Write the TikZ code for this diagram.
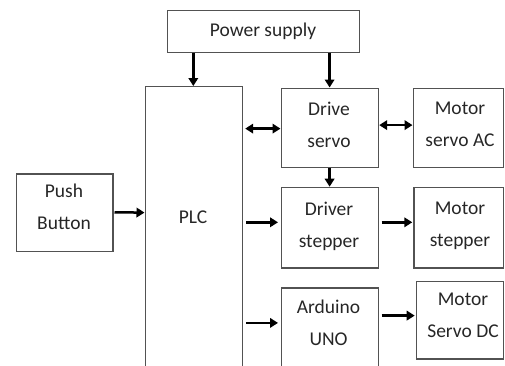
\documentclass[tikz,border=0pt]{standalone}
\usepackage{fontspec}
\setmainfont{Carlito}
\usetikzlibrary{arrows.meta,calc}

\begin{document}
\begin{tikzpicture}[x=1pt, y=-1pt,
  box/.style={draw=black!68, line width=1.2pt, inner sep=0pt, anchor=north west},
  txt/.style={align=center, inner sep=0pt, font=\fontsize{19.5}{32}\selectfont, text=black!85},
  arr/.style={line width=2.5pt, -{Triangle[length=8pt,width=9.5pt]}},
  darr/.style={line width=2.5pt, {Triangle[length=8pt,width=9.5pt]}-{Triangle[length=8pt,width=9.5pt]}}]

\useasboundingbox (0,0) rectangle (505,365);
\clip (0,0) rectangle (505,365);

% blocks
\node[box, minimum width=192pt, minimum height=41.5pt] (power) at (167,10) {};
\node[box, minimum width=97pt, minimum height=320pt] (plc) at (144.5,86) {};
\node[box, minimum width=96.3pt, minimum height=77.4pt] (push) at (16,173.3) {};
\node[box, minimum width=97pt, minimum height=79pt] (drive) at (280.5,87.5) {};
\node[box, minimum width=90.5pt, minimum height=79pt] (motorac) at (412.5,87.5) {};
\node[box, minimum width=97pt, minimum height=80.6pt] (stepper) at (280.5,186.7) {};
\node[box, minimum width=89.7pt, minimum height=80.6pt] (motorstep) at (413.3,186.7) {};
\node[box, minimum width=97pt, minimum height=120pt] (arduino) at (280.5,287.3) {};
\node[box, minimum width=87.3pt, minimum height=77.6pt] (motordc) at (415.7,280.7) {};

% labels
\node[txt] (power-t) at (263,31.5) {Power supply};
\node[txt] (plc-t) at (193,217.5) {PLC};
\node[txt] (push-t) at (64,206.7) {Push\\Button};
\node[txt] (drive-t) at (329,124.5) {Drive\\servo};
\node[txt] (motorac-t) at (460,124.5) {Motor\\servo AC};
\node[txt] (stepper-t) at (329,226) {Driver\\stepper};
\node[txt] (motorstep-t) at (460,226) {Motor\\stepper};
\node[txt] (arduino-t) at (328.5,323.2) {Arduino\\UNO};
\node[txt] (motordc-t) at (463,315) {Motor\\Servo DC};

% power feeds
\draw[arr] ($(power.south west)+(26.3,0)$) -- ($(plc.north west)+(48.8,0)$);
\draw[arr] (power.south -| drive.north) -- (drive.north);

% servo chain
\draw[darr] ($(plc.east |- drive.west)+(2.5,1)$) -- ($(drive.west)+(0,1)$);
\draw[darr] ($(drive.east)+(0.5,-2.5)$) -- ($(motorac.west |- drive.east)+(0,-2.5)$);
\draw[arr] (drive.south) -- (stepper.north);

% inputs and outputs
\draw[arr] ($(push.east)+(1,-0.3)$) -- (push.east -| plc.west);
\draw[arr] ($(plc.east |- stepper.west)+(3.5,-5.3)$) -- ($(stepper.west)+(-2.5,-5.3)$);
\draw[arr] ($(stepper.east)+(3,-5.3)$) -- ($(motorstep.west |- stepper.east)+(-1,-5.3)$);
\draw[arr] ($(plc.east |- motordc.west)+(3.5,2.8)$) -- ($(arduino.west |- motordc.west)+(-2.5,2.8)$);
\draw[arr] ($(arduino.east |- motordc.west)+(3,-4.5)$) -- ($(motordc.west)+(-1,-4.5)$);
\end{tikzpicture}
\end{document}
